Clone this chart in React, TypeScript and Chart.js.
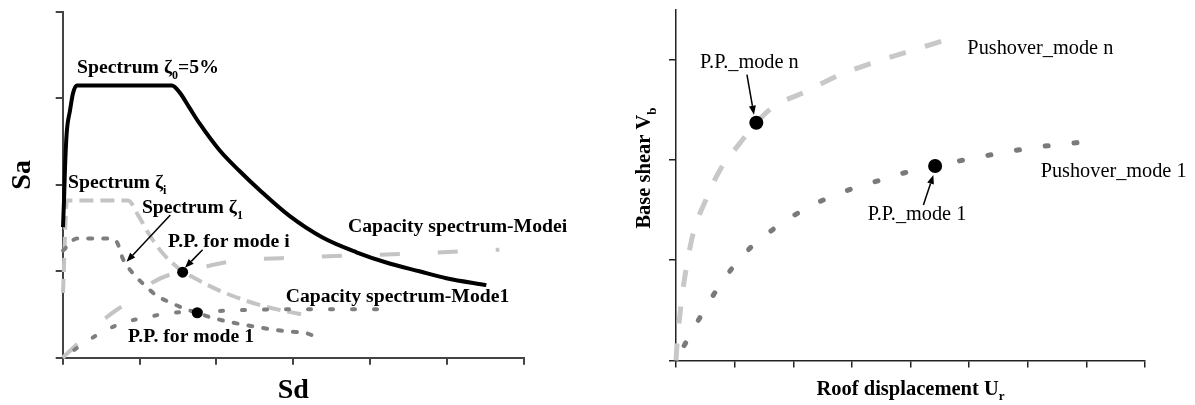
import React, { useEffect, useRef } from 'react';
import { Chart, registerables } from 'chart.js';

Chart.register(...registerables);

const FONT = '"Liberation Serif", "Times New Roman", serif';

// ---------------- Left chart: capacity spectrum method (Sd vs Sa) ----------------
const sdTicks = [0, 1, 2, 3, 4, 5, 6];
const saTicks = [0, 1, 2, 3, 4];

const spectrum0Sd = [0.004, 0.017, 0.03, 0.052, 0.095, 0.134, 0.186, 1.42, 1.52, 1.65, 1.78, 2.04, 2.3, 2.56, 2.95, 3.38, 3.82, 4.25, 4.64, 4.99, 5.51];
const spectrum0Sa = [1.51, 1.82, 2.2, 2.6, 2.86, 3.06, 3.15, 3.15, 3.07, 2.89, 2.71, 2.4, 2.16, 1.94, 1.64, 1.39, 1.22, 1.09, 1.0, 0.92, 0.84];

const spectrumISd = [0.004, 0.056, 0.85, 0.98, 1.13, 1.29, 1.5, 1.78, 2.11, 2.6, 3.17];
const spectrumISa = [0.75, 1.82, 1.82, 1.65, 1.42, 1.22, 1.04, 0.89, 0.75, 0.6, 0.49];

const spectrum1Sd = [0.004, 0.186, 0.61, 0.71, 0.78, 0.91, 1.04, 1.22, 1.42, 1.61, 2.04, 2.43, 2.98, 3.28, 3.3];
const spectrum1Sa = [1.24, 1.38, 1.38, 1.33, 1.15, 0.98, 0.86, 0.72, 0.63, 0.56, 0.44, 0.37, 0.3, 0.24, 0.18];

const capacityISd = [0, 0.575, 0.84, 1.13, 1.39, 1.56, 2.17, 3.08, 4.38, 5.68];
const capacityISa = [0, 0.47, 0.64, 0.85, 0.96, 0.99, 1.11, 1.16, 1.2, 1.25];

const capacity1Sd = [0, 0.2, 0.52, 0.81, 1.11, 1.42, 1.75, 2.3, 3.08, 4.31];
const capacity1Sa = [0, 0.12, 0.3, 0.41, 0.47, 0.52, 0.53, 0.55, 0.56, 0.56];

const ppModeISd = [1.56];
const ppModeISa = [0.99];
const ppMode1Sd = [1.75];
const ppMode1Sa = [0.52];

const leftLabels = [
  { text: 'Spectrum ζ{0}=5%', x: 0.186, y: 3.29 },
  { text: 'Spectrum ζ{i}', x: 0.069, y: 1.96 },
  { text: 'Spectrum ζ{1}', x: 1.03, y: 1.67 },
  { text: 'P.P. for mode i', x: 1.37, y: 1.28 },
  { text: 'Capacity spectrum-Modei', x: 3.71, y: 1.45 },
  { text: 'Capacity spectrum-Mode1', x: 2.9, y: 0.64 },
  { text: 'P.P. for mode 1', x: 0.85, y: 0.18 },
];
const leftArrows = [
  { x1: 1.4, y1: 1.65, x2: 0.83, y2: 1.11 },
  { x1: 1.82, y1: 1.25, x2: 1.59, y2: 1.04 },
];

// ---------------- Right chart: pushover curves (Ur vs Vb) ----------------
const urTicks = [0, 1, 2, 3, 4, 5, 6, 7, 8];
const vbTicks = [0, 1, 2, 3];

const pushoverNUr = [0, 0.02, 0.24, 0.53, 0.78, 1.04, 1.37, 1.66, 2.17, 2.8, 3.36, 3.96, 4.62];
const pushoverNVb = [0, 0.18, 1.13, 1.63, 1.93, 2.13, 2.37, 2.53, 2.67, 2.85, 2.97, 3.08, 3.2];

const pushover1Ur = [0, 0.36, 0.78, 1.21, 1.64, 2.05, 2.51, 2.99, 3.38, 3.82, 4.42, 5.27, 6.19, 7.13];
const pushover1Vb = [0, 0.38, 0.78, 1.09, 1.3, 1.46, 1.6, 1.71, 1.78, 1.86, 1.94, 2.04, 2.13, 2.19];

const ppModeNUr = [1.37];
const ppModeNVb = [2.37];
const ppModeOneUr = [4.42];
const ppModeOneVb = [1.94];

const rightLabels = [
  { text: 'P.P._mode n', x: 0.41, y: 2.92 },
  { text: 'Pushover_mode n', x: 4.97, y: 3.06 },
  { text: 'Pushover_mode 1', x: 6.22, y: 1.83 },
  { text: 'P.P._mode 1', x: 3.27, y: 1.4 },
];
const rightArrows = [
  { x1: 1.21, y1: 2.85, x2: 1.33, y2: 2.45 },
  { x1: 4.22, y1: 1.55, x2: 4.39, y2: 1.85 },
];

// ---------------- helpers ----------------
const pts = (xs: number[], ys: number[]) => xs.map((x, i) => ({ x, y: ys[i] }));

function parseRich(text: string) {
  const parts: { t: string; sub: boolean }[] = [];
  const re = /\{([^}]*)\}/g;
  let last = 0;
  let m: RegExpExecArray | null;
  while ((m = re.exec(text))) {
    if (m.index > last) parts.push({ t: text.slice(last, m.index), sub: false });
    parts.push({ t: m[1], sub: true });
    last = m.index + m[0].length;
  }
  if (last < text.length) parts.push({ t: text.slice(last), sub: false });
  return parts;
}

function drawRich(ctx: CanvasRenderingContext2D, text: string, x: number, y: number, size: number, weight: string, align: 'left' | 'center') {
  const parts = parseRich(text);
  const subSize = Math.round(size * 0.62);
  const fontOf = (sub: boolean) => `${weight} ${sub ? subSize : size}px ${FONT}`;
  let total = 0;
  for (const p of parts) {
    ctx.font = fontOf(p.sub);
    total += ctx.measureText(p.t).width;
  }
  let cx = align === 'center' ? x - total / 2 : x;
  ctx.textBaseline = 'alphabetic';
  ctx.textAlign = 'left';
  for (const p of parts) {
    ctx.font = fontOf(p.sub);
    ctx.fillText(p.t, cx, p.sub ? y + size * 0.28 : y);
    cx += ctx.measureText(p.t).width;
  }
}

function drawArrow(ctx: CanvasRenderingContext2D, x1: number, y1: number, x2: number, y2: number) {
  const ang = Math.atan2(y2 - y1, x2 - x1);
  const hl = 9;
  const hw = 3.5;
  const bx = x2 - hl * Math.cos(ang);
  const by = y2 - hl * Math.sin(ang);
  ctx.strokeStyle = '#000';
  ctx.fillStyle = '#000';
  ctx.lineWidth = 1.5;
  ctx.beginPath();
  ctx.moveTo(x1, y1);
  ctx.lineTo(bx, by);
  ctx.stroke();
  ctx.beginPath();
  ctx.moveTo(x2, y2);
  ctx.lineTo(bx + hw * Math.sin(ang), by - hw * Math.cos(ang));
  ctx.lineTo(bx - hw * Math.sin(ang), by + hw * Math.cos(ang));
  ctx.closePath();
  ctx.fill();
}

type Label = { text: string; x: number; y: number };
type Arrow = { x1: number; y1: number; x2: number; y2: number };
type Notes = {
  labels: Label[];
  arrows: Arrow[];
  labelSize: number;
  labelWeight: string;
  xTitle: string;
  xTitleSize: number;
  xTitleBaseline: number;
  yTitle: string;
  yTitleSize: number;
  yTitleBaseline: number;
  yTitleShift: number;
};

function notesPlugin(n: Notes) {
  return {
    id: 'notes',
    afterDatasetsDraw(chart: any) {
      const { ctx, chartArea, scales } = chart;
      const xs = scales.x;
      const ys = scales.y;
      ctx.save();
      ctx.fillStyle = '#000';
      for (const a of n.arrows) {
        drawArrow(ctx, xs.getPixelForValue(a.x1), ys.getPixelForValue(a.y1), xs.getPixelForValue(a.x2), ys.getPixelForValue(a.y2));
      }
      ctx.fillStyle = '#000';
      for (const l of n.labels) {
        drawRich(ctx, l.text, xs.getPixelForValue(l.x), ys.getPixelForValue(l.y), n.labelSize, n.labelWeight, 'left');
      }
      // axis titles
      const midX = (chartArea.left + chartArea.right) / 2;
      drawRich(ctx, n.xTitle, midX, chartArea.bottom + n.xTitleBaseline, n.xTitleSize, 'bold', 'center');
      const midY = (chartArea.top + chartArea.bottom) / 2 + n.yTitleShift;
      ctx.translate(chartArea.left - n.yTitleBaseline, midY);
      ctx.rotate(-Math.PI / 2);
      drawRich(ctx, n.yTitle, 0, 0, n.yTitleSize, 'bold', 'center');
      ctx.restore();
    },
  };
}

function axis(max: number, tickValues: number[], tickLen: number, color: string, width: number, horizontal: boolean) {
  return {
    type: 'linear' as const,
    min: 0,
    max,
    afterBuildTicks: (s: any) => {
      s.ticks = tickValues.map((v) => ({ value: v }));
    },
    afterFit: (s: any) => {
      if (horizontal) s.height = tickLen;
      else s.width = tickLen;
    },
    grid: { display: true, drawOnChartArea: false, drawTicks: true, tickLength: tickLen, color, lineWidth: width },
    border: { display: true, color, width },
    ticks: { display: false },
    title: { display: false },
  };
}

function line(data: { x: number; y: number }[], color: string, width: number, dash: number[], cap: 'butt' | 'round' = 'butt', dashOffset = 0) {
  return {
    data,
    borderColor: color,
    borderWidth: width,
    borderDash: dash,
    borderDashOffset: dashOffset,
    borderCapStyle: cap,
    pointRadius: 0,
    fill: false,
    showLine: true,
    cubicInterpolationMode: 'monotone' as const,
    clip: false as const,
  };
}

function dot(data: { x: number; y: number }[], r: number) {
  return {
    data,
    showLine: false,
    pointRadius: r,
    pointBackgroundColor: '#000',
    pointBorderColor: '#000',
    pointBorderWidth: 0,
    clip: false as const,
  };
}

function ChartCanvas({ config, width, height, left }: { config: () => any; width: number; height: number; left: number }) {
  const ref = useRef<HTMLCanvasElement | null>(null);
  useEffect(() => {
    if (!ref.current) return;
    const chart = new Chart(ref.current, config());
    return () => chart.destroy();
  }, []);
  return (
    <canvas
      ref={ref}
      width={width}
      height={height}
      style={{ position: 'absolute', left, top: 0, width, height, display: 'block' }}
    />
  );
}

const leftConfig = () => ({
  type: 'line',
  data: {
    datasets: [
      dot(pts(ppModeISd, ppModeISa), 5.5),
      dot(pts(ppMode1Sd, ppMode1Sa), 5.5),
      line(pts(spectrum0Sd, spectrum0Sa), '#000000', 4, []),
      line(pts(capacity1Sd, capacity1Sa), '#7e7e7e', 4, [3, 19], 'round', 8),
      line(pts(spectrum1Sd, spectrum1Sa), '#7e7e7e', 4, [4, 11], 'round'),
      line(pts(capacityISd, capacityISa), '#c4c4c4', 4, [20, 38]),
      line(pts(spectrumISd, spectrumISa), '#c4c4c4', 4, [14, 7]),
    ],
  },
  options: {
    responsive: false,
    animation: false,
    events: [],
    layout: { padding: { left: 55.7, right: 66, top: 12, bottom: 40.3 } },
    plugins: { legend: { display: false }, tooltip: { enabled: false } },
    scales: {
      x: axis(6, sdTicks, 7, '#444', 2, true),
      y: axis(4, saTicks, 7, '#444', 2, false),
    },
  },
  plugins: [
    notesPlugin({
      labels: leftLabels,
      arrows: leftArrows,
      labelSize: 19.7,
      labelWeight: 'bold',
      xTitle: 'Sd',
      xTitleSize: 28,
      xTitleBaseline: 40,
      yTitle: 'Sa',
      yTitleSize: 28,
      yTitleBaseline: 33,
      yTitleShift: -10,
    }),
  ],
});

const rightConfig = () => ({
  type: 'line',
  data: {
    datasets: [
      dot(pts(ppModeNUr, ppModeNVb), 7),
      dot(pts(ppModeOneUr, ppModeOneVb), 7),
      line(pts(pushover1Ur, pushover1Vb), '#7a7a7a', 5, [3, 26], 'round', 12),
      line(pts(pushoverNUr, pushoverNVb), '#c8c8c8', 5, [17, 20]),
    ],
  },
  options: {
    responsive: false,
    animation: false,
    events: [],
    layout: { padding: { left: 79, right: 50, top: 9.5, bottom: 37.5 } },
    plugins: { legend: { display: false }, tooltip: { enabled: false } },
    scales: {
      x: axis(8, urTicks, 7, '#222', 1.5, true),
      y: axis(3.5, vbTicks, 7, '#222', 1.5, false),
    },
  },
  plugins: [
    notesPlugin({
      labels: rightLabels,
      arrows: rightArrows,
      labelSize: 20.3,
      labelWeight: 'normal',
      xTitle: 'Roof displacement U{r}',
      xTitleSize: 20.5,
      xTitleBaseline: 34,
      yTitle: 'Base shear V{b}',
      yTitleSize: 20.5,
      yTitleBaseline: 26,
      yTitleShift: -17,
    }),
  ],
});

export default function App() {
  return (
    <div style={{ position: 'absolute', left: 0, top: 0, width: 1195, height: 405, background: '#fff', overflow: 'hidden' }}>
      <ChartCanvas config={leftConfig} width={590} height={405} left={0} />
      <ChartCanvas config={rightConfig} width={605} height={405} left={590} />
    </div>
  );
}
